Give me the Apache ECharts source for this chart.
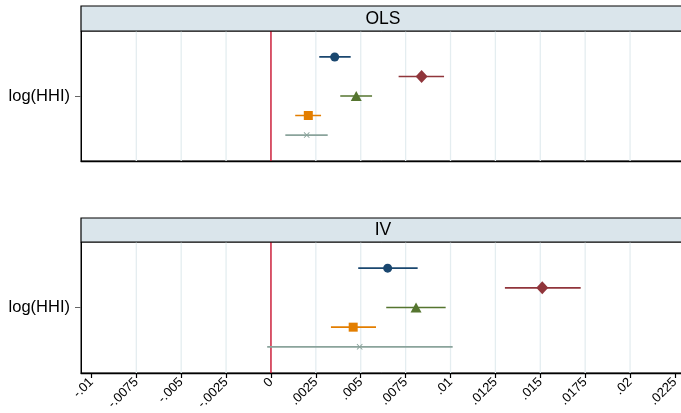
<!DOCTYPE html>
<html>
<head>
<meta charset="utf-8">
<script src="https://cdn.jsdelivr.net/npm/echarts@6/dist/echarts.min.js"></script>
<style>
  html, body { margin: 0; padding: 0; background: #fff; }
  #chart { width: 681px; height: 413px; }
</style>
</head>
<body>
<div id="chart"></div>
<script>
// Coefficient estimates with 95% confidence intervals, five specifications per panel
const panelTitles = ['OLS', 'IV'];
const rowLabel = 'log(HHI)';

const olsCoef  = [0.00355, 0.00839, 0.00475, 0.00208, 0.00199];
const olsLower = [0.00269, 0.00711, 0.00386, 0.00135, 0.00080];
const olsUpper = [0.00444, 0.00964, 0.00563, 0.00279, 0.00316];

const ivCoef   = [0.00650, 0.01511, 0.00808, 0.00458, 0.00494];
const ivLower  = [0.00486, 0.01303, 0.00642, 0.00334, -0.00021];
const ivUpper  = [0.00817, 0.01725, 0.00973, 0.00585, 0.01012];

const xTicks = [-0.01, -0.0075, -0.005, -0.0025, 0, 0.0025, 0.005, 0.0075,
                0.01, 0.0125, 0.015, 0.0175, 0.02, 0.0225];
const refValue = 0;

// Styling per specification (marker shape + colour)
const colors = ['#1a476f', '#90353b', '#55752f', '#e37e00', '#8aa39b'];
const xMark = 'path://M0,1L1,0L5,4L9,0L10,1L6,5L10,9L9,10L5,6L1,10L0,9L4,5Z';
const symbols = ['circle', 'diamond', 'triangle', 'rect', xMark];
const symbolSizes = [9, [12, 13], [11, 10], 9, 6];
const rowOffsets = [2, 1, 0, -1, -2];

const fmtTick = v => String(v).replace('0.', '.');

const xMin = -0.01058, xMax = 0.02306;
const yLim = 3.33;
const fontFamily = 'Liberation Sans, Arial, sans-serif';

const grids = [
  { left: 81, top: 31, width: 604, height: 130 },
  { left: 81, top: 242, width: 604, height: 131 }
];
const strips = [
  { y: 6, h: 25 },
  { y: 218, h: 24 }
];

// interior grid lines (none at the outermost ticks)
const gridLineValues = xTicks.slice(1, -1).filter(v => v !== refValue);

const xAxes = grids.map((g, i) => ({
  type: 'value', gridIndex: i, min: xMin, max: xMax,
  axisLine: { show: true, onZero: false, lineStyle: { color: '#000', width: 1.4 } },
  axisTick: { show: i === 1, customValues: xTicks, length: 5, lineStyle: { color: '#000', width: 1.2 } },
  axisLabel: {
    show: i === 1, customValues: xTicks, rotate: 45, margin: 7,
    fontFamily, fontSize: 13, color: '#000',
    formatter: fmtTick
  },
  splitLine: { show: false },
  minorSplitLine: { show: false }
}));

const yAxes = grids.map((g, i) => ({
  type: 'value', gridIndex: i, min: -yLim, max: yLim,
  axisLine: { show: true, onZero: false, lineStyle: { color: '#000', width: 1 } },
  axisTick: { show: true, customValues: [0], length: 6, lineStyle: { color: '#666', width: 1 } },
  axisLabel: {
    show: true, customValues: [0], margin: 11,
    fontFamily, fontSize: 16.5, color: '#000',
    formatter: () => rowLabel
  },
  splitLine: { show: false }
}));

const vLine = (color, width) => function (params, api) {
  const v = api.value(0);
  const p0 = api.coord([v, -yLim]);
  const p1 = api.coord([v, yLim]);
  return {
    type: 'line',
    shape: { x1: p0[0], y1: p0[1], x2: p1[0], y2: p1[1] },
    style: { stroke: color, lineWidth: width }
  };
};

const series = [];
const panelData = [
  [olsCoef, olsLower, olsUpper],
  [ivCoef, ivLower, ivUpper]
];

panelData.forEach(([coef, lo, hi], p) => {
  series.push({
    type: 'custom', xAxisIndex: p, yAxisIndex: p, z: 1, silent: true,
    data: gridLineValues.map(v => [v]),
    renderItem: vLine('#e4edf0', 1.3)
  });
  series.push({
    type: 'custom', xAxisIndex: p, yAxisIndex: p, z: 2, silent: true,
    data: [[refValue]],
    renderItem: vLine('#c8102e', 1.4)
  });
  coef.forEach((c, k) => {
    const y = rowOffsets[k];
    series.push({
      type: 'line', xAxisIndex: p, yAxisIndex: p, z: 3,
      data: [[lo[k], y], [hi[k], y]],
      symbol: 'none', silent: true, animation: false,
      lineStyle: { color: colors[k], width: 1.7 }
    });
    series.push({
      type: 'scatter', xAxisIndex: p, yAxisIndex: p, z: 4,
      data: [[c, y]], symbol: symbols[k], symbolSize: symbolSizes[k],
      silent: true, animation: false,
      itemStyle: { color: colors[k], opacity: 1 }
    });
  });
});

const graphics = [];
strips.forEach((s, i) => {
  graphics.push({
    type: 'rect', z: 10,
    shape: { x: grids[i].left, y: s.y, width: grids[i].width, height: s.h },
    style: { fill: '#dae5eb', stroke: '#000', lineWidth: 1.2 }
  });
  graphics.push({
    type: 'text', z: 11,
    x: grids[i].left + grids[i].width / 2, y: s.y + s.h / 2 + 0.5,
    style: {
      text: panelTitles[i], fill: '#000', fontSize: 17.5, fontFamily,
      align: 'center', verticalAlign: 'middle'
    }
  });
});

const chart = echarts.init(document.getElementById('chart'), null, { renderer: 'canvas' });
chart.setOption({
  animation: false,
  backgroundColor: '#fff',
  grid: grids.map(g => Object.assign({
    show: true, borderColor: '#000', borderWidth: 1, backgroundColor: '#fff',
    containLabel: false, outerBoundsMode: 'none'
  }, g)),
  xAxis: xAxes,
  yAxis: yAxes,
  series: series,
  graphic: graphics
});
</script>
</body>
</html>
